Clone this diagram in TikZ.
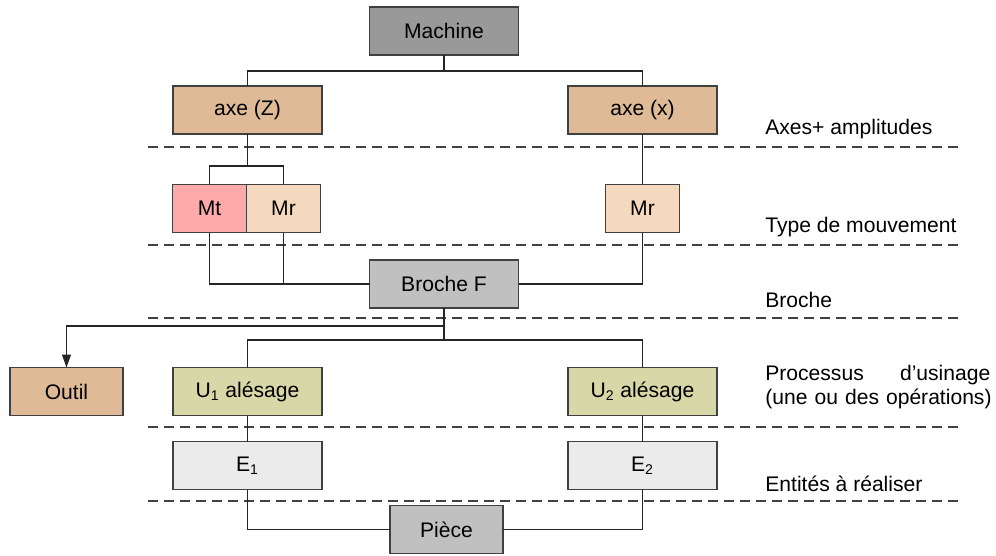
\documentclass[tikz,border=0pt]{standalone}
\usepackage{fontspec}
\setmainfont{Liberation Sans}
\usetikzlibrary{arrows.meta}
\definecolor{machgray}{RGB}{153,153,153}
\definecolor{lightgray}{RGB}{192,192,192}
\definecolor{tan}{RGB}{222,186,151}
\definecolor{pinkmt}{RGB}{255,170,170}
\definecolor{beigemr}{RGB}{244,217,190}
\definecolor{olive}{RGB}{215,215,168}
\definecolor{paleent}{RGB}{235,235,235}
\definecolor{edge}{RGB}{64,64,64}
\begin{document}
\begin{tikzpicture}[font=\fontsize{12}{14}\selectfont,
  box/.style={draw=edge, line width=0.6pt, minimum width=2.98cm, minimum height=0.96cm, inner sep=0pt, outer sep=0pt},
  small/.style={box, minimum width=1.48cm},
  mid/.style={box, minimum width=2.26cm},
  link/.style={draw=black!85, line width=0.6pt},
  sep/.style={draw=black!75, line width=0.6pt, dash pattern=on 0.2cm off 0.12cm},
  level/.style={anchor=west, inner sep=0pt}]
 			\useasboundingbox (0,0) rectangle (19.92,-11.12);

 			% Separators
 			\foreach \y in {-2.94,-4.90,-6.36,-8.54,-10.02}
 			  \draw[sep] (2.96,\y) -- (19.26,\y);

 			% Machine and axes
 			\node[box, fill=machgray] (machine) at (8.88,-0.62) {Machine};
 			\node[box, fill=tan] (axeZ) at (4.95,-2.2) {axe (Z)};
 			\node[box, fill=tan] (axeX) at (12.85,-2.2) {axe (x)};

 			% Movements
 			\node[small, fill=pinkmt] (mt) at (4.19,-4.17) {Mt};
 			\node[small, fill=beigemr] (mrZ) at (5.67,-4.17) {Mr};
 			\node[small, fill=beigemr] (mrX) at (12.85,-4.17) {Mr};

 			% Spindle
 			\node[box, fill=lightgray] (broche) at (8.88,-5.68) {Broche F};

 			% Tool and machining
 			\node[mid, fill=tan] (outil) at (1.33,-7.83) {Outil};
 			\node[box, fill=olive] (u1) at (4.95,-7.83) {U\textsubscript{1} alésage};
 			\node[box, fill=olive] (u2) at (12.85,-7.83) {U\textsubscript{2} alésage};

 			% Features and part
 			\node[box, fill=paleent] (e1) at (4.95,-9.31) {E\textsubscript{1}};
 			\node[box, fill=paleent] (e2) at (12.85,-9.31) {E\textsubscript{2}};
 			\node[mid, fill=lightgray] (piece) at (8.93,-10.59) {Pièce};

 			% Level labels
 			\node[level] (lax) at (15.3,-2.58) {Axes+ amplitudes};
 			\node[level] (lmv) at (15.3,-4.54) {Type de mouvement};
 			\node[level] (lbr) at (15.3,-6.0) {Broche};
 			\node[level, text width=4.5cm, align=left] (lpr) at (15.3,-7.74) {Processus\hfill d’usinage\\\mbox{(une ou des opérations)}};
 			\node[level] (len) at (15.3,-9.68) {Entités à réaliser};

 			% Connectors
 			\draw[link] (machine.south) -- ++(0,-0.32) coordinate (jm);
 			\draw[link] (axeZ.north) |- (jm) -| (axeX.north);
 			\draw[link] (axeZ.south) -- ++(0,-0.64) coordinate (jz);
 			\draw[link] (mt.north) |- (jz) -| (mrZ.north);
 			\draw[link] (axeX.south) -- (mrX.north);
 			\draw[link] (mt.south) |- (broche.west);
 			\draw[link] (mrZ.south) |- (broche.west);
 			\draw[link] (mrX.south) |- (broche.east);
 			\draw[link] (broche.south) -- ++(0,-0.36) coordinate (jo) -- ++(0,-0.28) coordinate (ju);
 			\draw[link, -{Triangle[length=0.26cm, width=0.18cm]}] (jo) -| (outil.north);
 			\draw[link] (u1.north) |- (ju) -| (u2.north);
 			\draw[link] (u1.south) -- (e1.north);
 			\draw[link] (u2.south) -- (e2.north);
 			\draw[link] (e1.south) |- (piece.west);
 			\draw[link] (e2.south) |- (piece.east);

 		\end{tikzpicture}
\end{document}
